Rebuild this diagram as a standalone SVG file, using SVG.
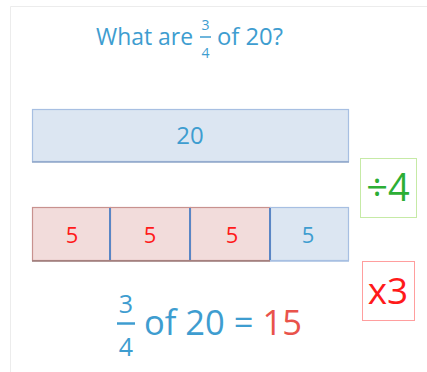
<svg xmlns="http://www.w3.org/2000/svg" width="427" height="372" viewBox="0 0 427 372">
<style>
.t{font-family:"Open Sans","Liberation Sans",sans-serif;}
.blue{fill:#3e9dd0;}
.red{fill:#ff1a1a;}
.bcell{fill:#dce6f2;stroke:#a7bfe2;stroke-width:1.2;}
.rcell{fill:#f2dcdb;stroke:#c8928f;stroke-width:1.2;}
.div{stroke:#5a86c5;stroke-width:2;}
</style>
<rect x="0" y="0" width="427" height="372" fill="#ffffff"/>
<path d="M10.5 372 V6.5 H427" fill="none" stroke="#ececec" stroke-width="1"/>
<g id="title">
<text class="t blue" x="96" y="45" font-size="23" textLength="97" lengthAdjust="spacingAndGlyphs">What are</text>
<text class="t blue" x="205.5" y="29.5" font-size="14" text-anchor="middle">3</text>
<line x1="200" y1="37" x2="211" y2="37" stroke="#3e9dd0" stroke-width="1.5"/>
<text class="t blue" x="205.5" y="58" font-size="14" text-anchor="middle">4</text>
<text class="t blue" x="217" y="45" font-size="23" textLength="66" lengthAdjust="spacingAndGlyphs">of 20?</text>
</g>
<g id="bar20">
<rect class="bcell" x="32.5" y="109.5" width="316" height="52"/>
<line x1="32" y1="162" x2="349" y2="162" stroke="#8fa6c8" stroke-width="1.5"/>
<text class="t blue" x="190" y="144" font-size="24" text-anchor="middle">20</text>
</g>
<g id="cell1">
<rect class="rcell" x="32.5" y="207.5" width="78" height="53"/>
<text class="t red" x="72" y="243" font-size="22" text-anchor="middle">5</text>
</g>
<g id="cell2">
<rect class="rcell" x="110.5" y="207.5" width="80" height="53"/>
<text class="t red" x="150" y="243" font-size="22" text-anchor="middle">5</text>
</g>
<g id="cell3">
<rect class="rcell" x="190.5" y="207.5" width="80" height="53"/>
<text class="t red" x="232" y="243" font-size="22" text-anchor="middle">5</text>
</g>
<g id="cell4">
<rect class="bcell" x="270.5" y="207.5" width="78" height="53"/>
<text class="t blue" x="308" y="243" font-size="22" text-anchor="middle">5</text>
</g>
<g id="connectors">
<line x1="32" y1="261" x2="270" y2="261" stroke="#9a7a78" stroke-width="1.5"/>
<line x1="270" y1="261" x2="349" y2="261" stroke="#a7bfe2" stroke-width="1.5"/>
<line class="div" x1="110" y1="208" x2="110" y2="260"/>
<line class="div" x1="190" y1="208" x2="190" y2="260"/>
<line class="div" x1="270" y1="208" x2="270" y2="260"/>
</g>
<g id="div4">
<rect x="360.5" y="158.5" width="56" height="59" fill="none" stroke="#c6eaa6" stroke-width="1"/>
<text class="t" x="388" y="201" font-size="38" text-anchor="middle" fill="#2cae35">÷4</text>
</g>
<g id="times3">
<rect x="362.5" y="261.5" width="52" height="59" fill="none" stroke="#ff9e9e" stroke-width="1"/>
<text class="t red" x="388" y="304" font-size="37" text-anchor="middle">x3</text>
</g>
<g id="answer">
<text class="t blue" x="126" y="313" font-size="25" text-anchor="middle">3</text>
<line x1="117" y1="323.5" x2="135" y2="323.5" stroke="#3e9dd0" stroke-width="2.5"/>
<text class="t blue" x="126" y="356" font-size="25" text-anchor="middle">4</text>
<text class="t blue" x="144" y="335" font-size="35" textLength="158" lengthAdjust="spacingAndGlyphs">of 20 = <tspan fill="#e9534b">15</tspan></text>
</g>
</svg>
